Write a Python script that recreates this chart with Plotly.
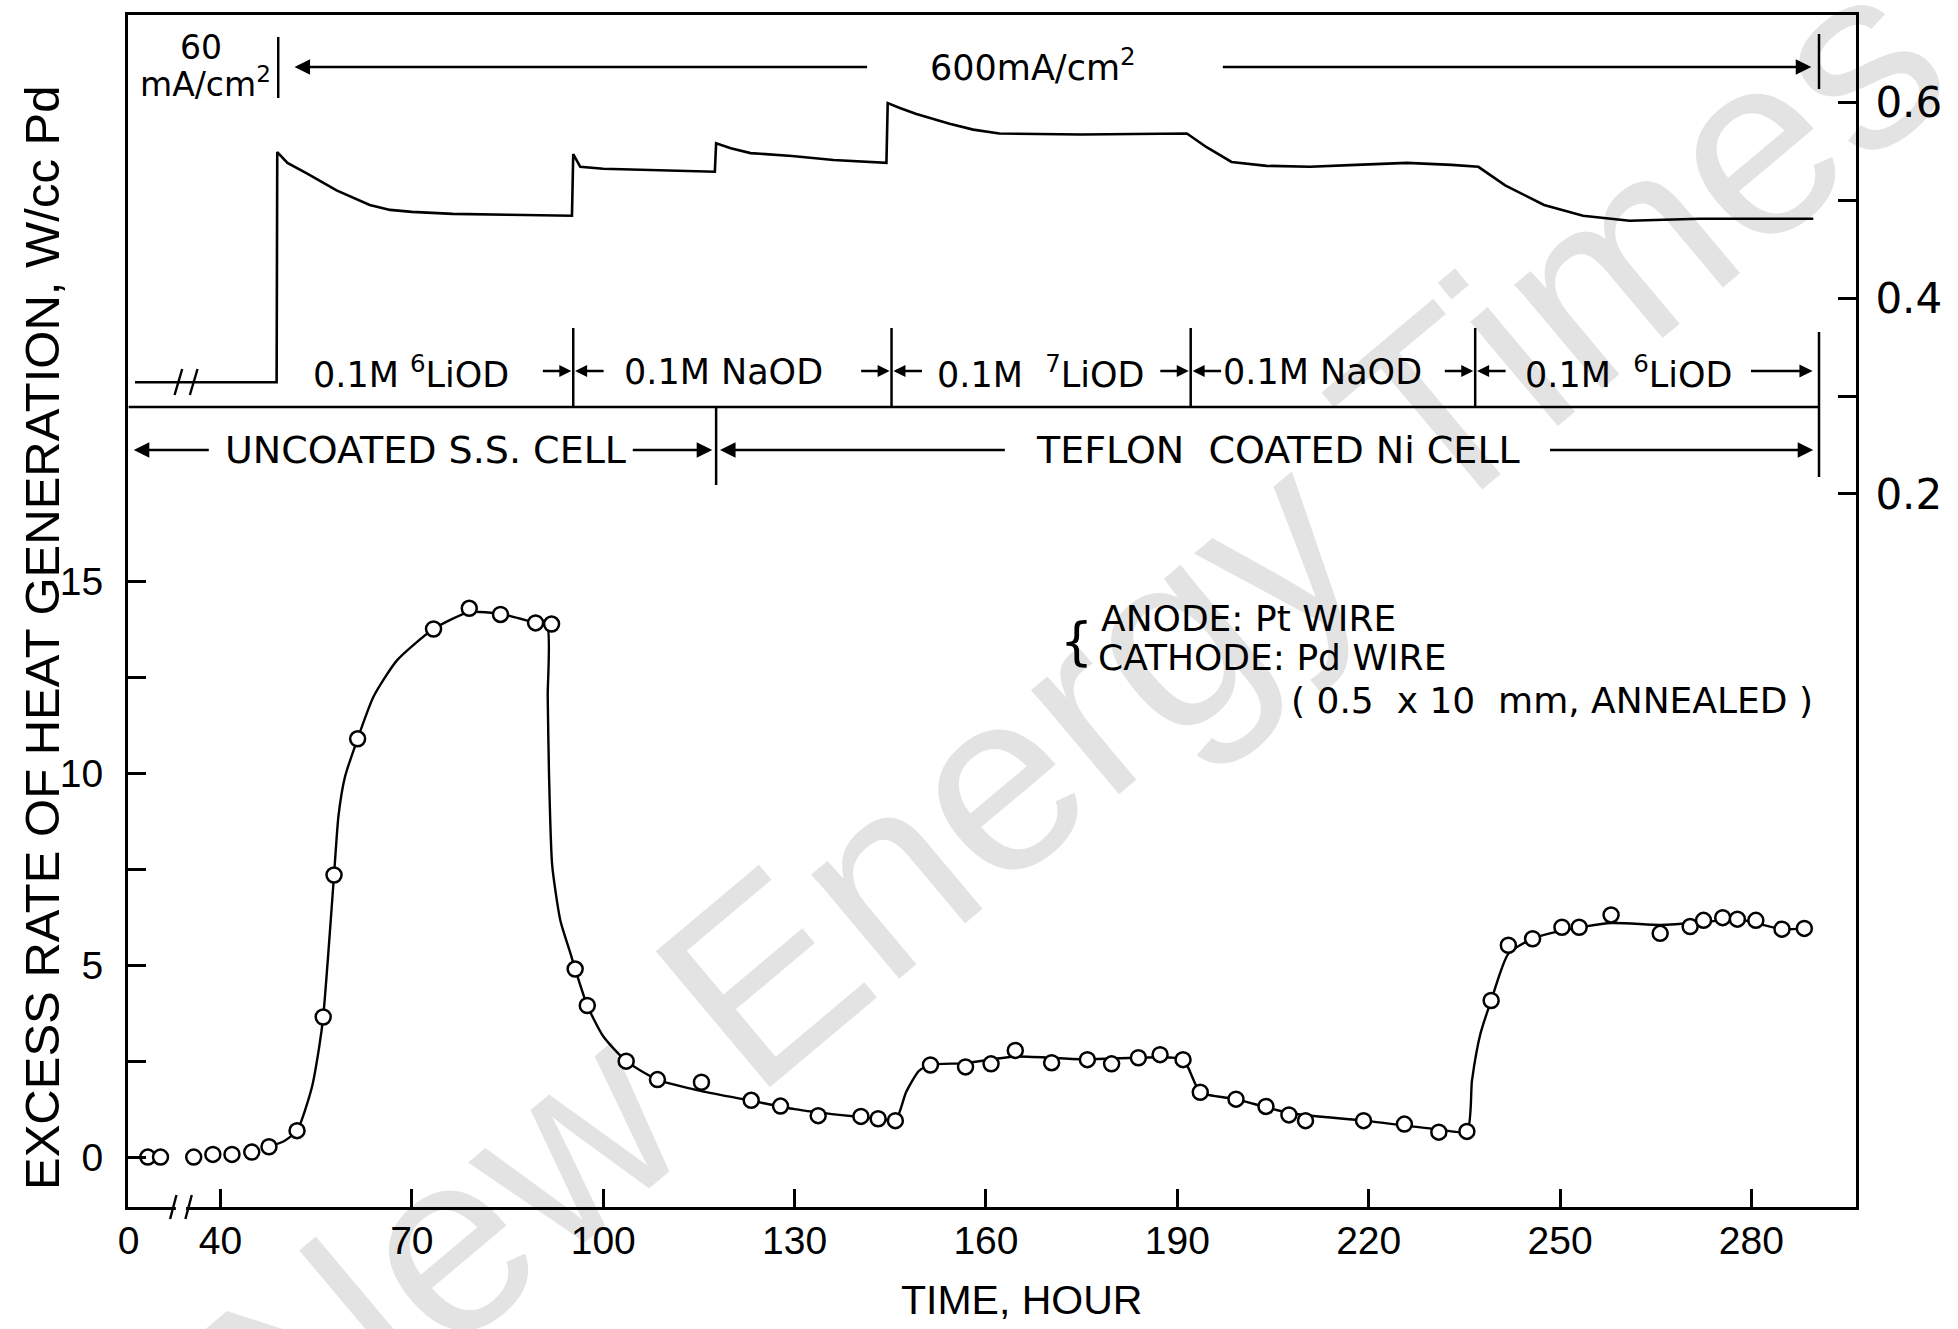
import plotly.graph_objects as go

# ---------------- data ----------------
# Hours are given on the plotted (broken) time axis: the span 0..40 h is compressed
x_tick_vals = [25.6, 40, 70, 100, 130, 160, 190, 220, 250, 280]
x_tick_text = ["0", "40", "70", "100", "130", "160", "190", "220", "250", "280"]
heat_tick_vals = [0, 2.5, 5, 7.5, 10, 12.5, 15]
heat_tick_text = ["0", "", "5", "", "10", "", "15"]
power_tick_vals = [0.2, 0.3, 0.4, 0.5, 0.6]
power_tick_text = ["0.2", "", "0.4", "", "0.6"]

# measured excess heat (W/cc Pd)
obs_hours = [28.6, 30.6, 35.8, 38.8, 41.8, 44.9, 47.6, 52.0, 56.1, 57.8, 61.5, 73.4, 79.0,
             83.9, 89.4, 91.9, 95.6, 97.5, 103.6, 108.5, 115.4, 123.2, 127.8, 133.7, 140.4,
             143.1, 145.8, 151.3, 156.8, 160.8, 164.6, 170.3, 175.9, 179.7, 183.9, 187.3,
             190.9, 193.6, 199.2, 203.9, 207.5, 210.1, 219.2, 225.6, 231.0, 235.4, 239.2,
             241.9, 245.7, 250.3, 253.0, 258.0, 265.7, 270.4, 272.5, 275.5, 277.8, 280.7,
             284.8, 288.3]
obs_heat = [0.0, 0.0, 0.0, 0.07, 0.07, 0.13, 0.27, 0.69, 3.65, 7.35, 10.9, 13.76, 14.3,
            14.14, 13.92, 13.89, 4.90, 3.95, 2.50, 2.02, 1.95, 1.48, 1.33, 1.08, 1.06,
            1.00, 0.95, 2.40, 2.35, 2.43, 2.78, 2.46, 2.54, 2.43, 2.59, 2.67,
            2.54, 1.69, 1.51, 1.32, 1.10, 0.95, 0.95, 0.86, 0.65, 0.67, 4.08,
            5.52, 5.69, 5.99, 5.99, 6.31, 5.83, 6.01, 6.17, 6.24, 6.20, 6.17,
            5.94, 5.96]

# hand-drawn smooth curve through the data
fit_hours = [47.6, 50.0, 52.0, 54.3, 55.5, 56.1, 56.9, 57.8, 58.5, 59.5, 61.5, 64.0, 67.7,
             73.4, 79.0, 84.0, 89.4, 91.2, 91.3, 91.5, 92.0, 93.3, 94.9, 95.6, 97.5, 100.0,
             103.6, 108.5, 115.4, 123.2, 130.0, 137.0, 143.1, 145.8, 147.5, 149.5, 151.3,
             156.8, 164.6, 175.0, 183.9, 190.9, 193.6, 199.2, 207.5, 219.2, 231.0, 235.4,
             236.2, 237.5, 239.2, 241.9, 245.7, 250.3, 258.0, 265.7, 272.5, 277.8, 284.8,
             288.3]
fit_heat = [0.27, 0.42, 0.69, 1.8, 2.9, 3.65, 5.3, 7.35, 8.9, 9.9, 10.9, 12.0, 12.95,
            13.76, 14.2, 14.15, 13.92, 13.85, 12.0, 10.0, 7.6, 6.15, 5.29, 4.90, 3.95, 3.15,
            2.50, 2.02, 1.72, 1.47, 1.25, 1.10, 1.00, 0.95, 1.7, 2.25, 2.40,
            2.45, 2.62, 2.55, 2.59, 2.54, 1.69, 1.51, 1.15, 0.95, 0.72, 0.67,
            2.0, 3.2, 4.08, 5.3, 5.69, 5.9, 6.1, 6.05, 6.12, 6.2, 5.94,
            5.96]

# input power trace (right axis)
power_hours = [26.6, 48.8, 48.9, 50.5, 53.6, 58.2, 63.4, 66.6, 70.0, 76.4, 85.0, 95.1, 95.3,
               96.4, 100.0, 110.0, 117.5, 117.7, 120.0, 123.1, 129.6, 136.1, 144.4, 144.6,
               146.5, 149.1, 154.3, 158.0, 162.1, 175.0, 185.0, 191.5, 194.6, 198.5, 204.0,
               210.8, 218.0, 226.0, 233.0, 237.2, 241.4, 247.5, 253.6, 260.9, 271.8, 280.0,
               289.7]
power_w = [0.314, 0.314, 0.549, 0.538, 0.527, 0.510, 0.495, 0.490, 0.488, 0.486, 0.485, 0.484,
           0.547, 0.534, 0.532, 0.530, 0.529, 0.558, 0.553, 0.548, 0.545, 0.541, 0.538, 0.599,
           0.594, 0.588, 0.578, 0.572, 0.568, 0.567, 0.568, 0.568, 0.554, 0.539, 0.535,
           0.534, 0.536, 0.538, 0.536, 0.534, 0.515, 0.495, 0.484, 0.479, 0.481, 0.481,
           0.481]

# experiment periods (hours)
current_change = 49.05
run_end = 290.6
solution_bounds = [95.3, 145.2, 192.1, 236.7]
solution_labels = ["0.1M <sup>6</sup>LiOD", "0.1M NaOD", "0.1M  <sup>7</sup>LiOD",
                   "0.1M NaOD", "0.1M  <sup>6</sup>LiOD"]
solution_label_x = [69.8, 118.8, 168.5, 212.7, 260.7]
cell_change = 117.7
cell_labels = ["UNCOATED S.S. CELL", "TEFLON\u00a0\u00a0COATED Ni CELL"]
cell_label_x = [72.1, 205.8]
break_marks = [32.6, 35.0]

# ---------------- layout helpers ----------------
W, H = 1958, 1329
L, R, T, B = 128, 102, 15, 122
PLOT_H = H - T - B
FONT = "DejaVu Sans, Liberation Sans, Arial, sans-serif"
AXFONT = "Liberation Sans, Arial, Helvetica, sans-serif"


def py(ypx):
    """pixel row -> paper fraction"""
    return (H - B - ypx) / PLOT_H


fig = go.Figure()

fig.add_trace(go.Scatter(x=power_hours, y=power_w, mode="lines", yaxis="y2",
                         line=dict(color="black", width=2.6), hoverinfo="skip"))
fig.add_trace(go.Scatter(x=fit_hours, y=fit_heat, mode="lines",
                         line=dict(color="black", width=2.4, shape="spline", smoothing=0.6),
                         hoverinfo="skip"))
fig.add_trace(go.Scatter(x=obs_hours, y=obs_heat, mode="markers",
                         marker=dict(symbol="circle", size=15, color="white",
                                     line=dict(color="black", width=2.5))))

shapes = []
annotations = []


def vline(x, y0, y1, w=2.5, color="black"):
    shapes.append(dict(type="line", xref="x", yref="paper", x0=x, x1=x, y0=py(y0), y1=py(y1),
                       line=dict(color=color, width=w)))


def hline(x0, x1, y, w=2.5, color="black"):
    shapes.append(dict(type="line", xref="x", yref="paper", x0=x0, x1=x1, y0=py(y), y1=py(y),
                       line=dict(color=color, width=w)))


def arrow(tail, head, y, size=1.3):
    annotations.append(dict(x=head, y=py(y), xref="x", yref="paper", ax=tail, ay=0,
                            axref="x", ayref="pixel", text="", showarrow=True,
                            arrowhead=2, arrowsize=size, arrowwidth=2.4, arrowcolor="black",
                            standoff=0, startstandoff=0))


def text(x, y, s, size=34, anchor="center", angle=0, family=FONT):
    annotations.append(dict(x=x, y=py(y), xref="x", yref="paper", text=s, showarrow=False,
                            xanchor=anchor, yanchor="middle", textangle=angle,
                            font=dict(family=family, size=size, color="black")))


# current density row
text(37.0, 48, "60", 33)
text(37.7, 83, "mA/cm<sup>2</sup>", 33)
vline(current_change, 37, 98)
arrow(141.6, 51.6, 67)
text(167.3, 65, "600mA/cm<sup>2</sup>", 35)
arrow(196.9, 289.4, 67)
vline(run_end, 34, 89)

# solution row
for xl, s in zip(solution_label_x, solution_labels):
    text(xl, 372, s, 35)
for b in solution_bounds:
    vline(b, 328, 407)
    arrow(b - 5.0, b - 0.3, 371, 1.0)
    arrow(b + 5.0, b + 0.3, 371, 1.0)
arrow(279.7, 289.6, 371, 1.1)
vline(run_end, 332, 477)
hline(25.6, run_end, 407)

# cell row
arrow(38.4, 26.4, 450)
text(cell_label_x[0], 450, cell_labels[0], 38)
arrow(104.4, 117.1, 450)
vline(cell_change, 407, 485)
arrow(163.2, 118.3, 450)
text(cell_label_x[1], 450, cell_labels[1], 38)
arrow(248.2, 289.7, 450)

# electrode note
text(174.2, 641, "{", 52)
text(177.8, 618, "ANODE: Pt WIRE", 36, "left")
text(177.2, 657, "CATHODE: Pd WIRE", 36, "left")
text(290.0, 700, "( 0.5\u00a0\u00a0x 10\u00a0\u00a0mm, ANNEALED )", 36, "right")

# axis break marks
hline(break_marks[0] + 0.4, break_marks[1] - 0.4, 1207, 6, "white")
for bm in break_marks:
    shapes.append(dict(type="line", xref="x", yref="paper", x0=bm - 0.5, x1=bm + 0.5,
                       y0=py(1219), y1=py(1195), line=dict(color="black", width=2.4)))
    shapes.append(dict(type="line", xref="x", yref="paper", x0=bm + 0.2, x1=bm + 1.4,
                       y0=py(395), y1=py(369), line=dict(color="black", width=2.4)))

# axis titles
annotations.append(dict(x=(42 - L) / (W - L - R), y=py(638), xref="paper", yref="paper",
                        text="EXCESS RATE OF HEAT GENERATION, W/cc Pd", showarrow=False,
                        textangle=-90, xanchor="center", yanchor="middle",
                        font=dict(family=AXFONT, size=49, color="black")))
annotations.append(dict(x=165.6, y=py(1300), xref="x", yref="paper", text="TIME, HOUR",
                        showarrow=False, xanchor="center", yanchor="middle",
                        font=dict(family=AXFONT, size=41, color="black")))

# watermark
annotations.append(dict(x=(1075 - L) / (W - L - R), y=py(715), xref="paper", yref="paper",
                        text="New Energy Times", showarrow=False, textangle=-40,
                        xanchor="center", yanchor="middle",
                        font=dict(family="Liberation Sans, Arial, sans-serif", size=258,
                                  color="rgba(0,0,0,0.11)")))

axis_common = dict(showgrid=False, zeroline=False, showline=True, linecolor="black",
                   linewidth=3, ticks="inside", ticklen=18, tickwidth=2.5, tickcolor="black")

fig.update_layout(
    width=W, height=H,
    margin=dict(l=L, r=R, t=T, b=B, autoexpand=False),
    paper_bgcolor="white", plot_bgcolor="white",
    showlegend=False,
    xaxis=dict(range=[25.5, 296.4], tickmode="array", tickvals=x_tick_vals,
               ticktext=x_tick_text, mirror=True, ticklabelstandoff=-3,
               tickfont=dict(family=AXFONT, size=39, color="black"), **axis_common),
    yaxis=dict(range=[-1.30, 29.76], tickmode="array", tickvals=heat_tick_vals,
               ticktext=heat_tick_text, ticklabelstandoff=14,
               tickfont=dict(family=AXFONT, size=39, color="black"), **axis_common),
    yaxis2=dict(range=[-0.528, 0.689], tickmode="array", tickvals=power_tick_vals,
                ticktext=power_tick_text, overlaying="y", side="right",
                ticklabelstandoff=8,
                tickfont=dict(family=FONT, size=42, color="black"), **axis_common),
    shapes=shapes,
    annotations=annotations,
)

fig.write_html("out.html")
